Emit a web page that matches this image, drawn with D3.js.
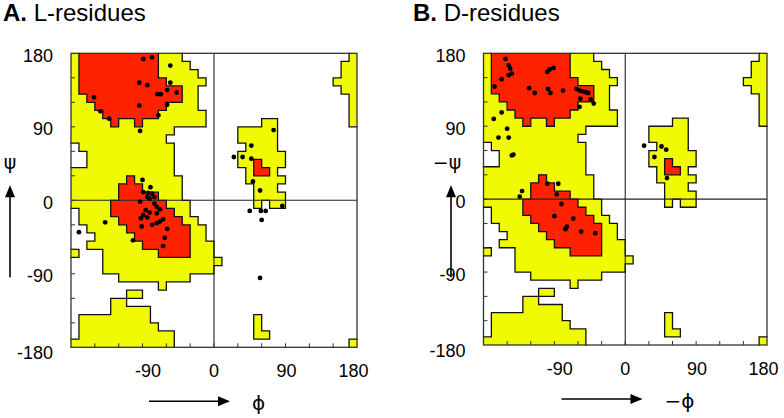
<!DOCTYPE html>
<html>
<head>
<meta charset="utf-8">
<script src="https://cdnjs.cloudflare.com/ajax/libs/d3/7.8.5/d3.min.js"></script>
<style>
body { margin: 0; background: #fff; }
svg text { font-family: "Liberation Sans", Arial, sans-serif; fill: #000; }
</style>
</head>
<body>
<svg id="chart" width="784" height="418"></svg>
<script>
var width = 784,
    height = 418;

// 10 degree cells. row 0 = psi 170..180 (top), column 0 = phi -180..-170
// "y" = allowed (yellow), "r" = core (red), anything not listed is white
var regionRows = [
  "y0 r1-10 y11-13 y35",
  "y0 r1-10 y11-14 y34-35",
  "y0 r1-10 y11-15 y34-35",
  "y0 r1-11 y12-16 y33-35",
  "y0 r1-13 y14-15 y34-35",
  "y0-1 r2-13 y14-15 y35",
  "y0-2 r3-11 y12-15 y35",
  "y0-3 r4-10 y11-16 y35",
  "y0-4 r5 y6-7 r8 y9-16 y24-25 y35",
  "y0-12 y21-25",
  "y0-11 y21-25",
  "y1-12 y22-25",
  "y2-12 y21-26",
  "y2-12 y21-22 r23 y24-26",
  "y0-12 y22 r23-24 y25",
  "y0-6 r7 y8-13 y22-26",
  "y0-5 r6-8 y9-13 y23-25",
  "y0-5 r6-10 y11-13 y23-26",
  "y0-4 r5-11 y12-14 y23 y25-26",
  "y1-4 r5-12 y13-14",
  "y1-5 r6-13 y14-15",
  "y2-6 r7-14 y15-16",
  "y3-7 r8-14 y15-16",
  "y2-8 r9-14 y15-17",
  "y0 y4-10 r11-14 y15-17",
  "y4-18",
  "y4-17",
  "y6-14",
  "y11",
  "y7-8",
  "y5-6",
  "y5-9",
  "y1-9 y23",
  "y1-10 y23",
  "y1-12 y23-24",
  "y0-12 y35"
];

var tickAngles = [-150, -120, -90, -60, -30, 0, 30, 60, 90, 120, 150];
var phiLabels = [-90, 0, 90, 180];
var psiLabels = [180, 90, 0, -90, -180];

// [phi, psi]
var lResidues = [
  [-89, 173], [-78, 175], [-55, 165], [-94, 144], [-84, 141], [-55, 144],
  [-59, 135], [-71, 130], [-67, 130], [-47, 132], [-151, 126], [-94, 116],
  [-59, 117], [-143, 109], [-132, 100], [-70, 104], [-93, 85],
  [-90, 25], [-80, 16], [-89, 10], [-78, 8], [-75, 4], [-84, 4],
  [-93, -2], [-83, 9], [-81, 2], [-75, -4], [-72, -8], [-86, -12],
  [-81, -15], [-72, -16], [-68, -11], [-89, -18], [-92, -22], [-84, -21],
  [-64, -23], [-68, -26], [-72, -28], [-78, -30], [-59, -35], [-91, -32],
  [-62, -46], [-64, -56], [-102, -49], [-137, -27], [-170, -39],
  [75, 86], [47, 67], [25, 53], [36, 53], [47, 51], [49, 23], [58, 12],
  [45, -13], [59, -13], [65, -13], [86, -7], [60, -24], [58, -95]
];

var dResidues = [
  [-152, 173], [-148, 165], [-146, 161], [-144, 155], [-148, 153], [-157, 148],
  [-166, 139], [-91, 162], [-96, 160], [-99, 157], [-122, 137], [-115, 131],
  [-98, 136], [-95, 131], [-79, 134], [-62, 136], [-58, 134], [-54, 133],
  [-50, 132], [-47, 131], [-57, 124], [-44, 123], [-40, 118], [-58, 114],
  [-157, 107], [-167, 99], [-150, 87], [-161, 76], [-148, 76], [-142, 55],
  [-144, 54], [-131, 10], [-134, 3], [-99, 19], [-85, 19], [-87, 6],
  [-81, -6], [-90, -21], [-66, -24], [-74, -34], [-76, -37], [-56, -40],
  [-38, -42],
  [24, 66], [46, 65], [52, 61], [37, 52], [53, 26]
];

var panels = [
  { left: 71, top: 53.3, width: 286, height: 294, title: "A.", sub: " L-residues", titleX: 3,
    points: lResidues, xName: "\u03d5", yName: "\u03c8", yArrowX: 10 },
  { left: 483.5, top: 53.3, width: 283.5, height: 291.7, title: "B.", sub: " D-residues", titleX: 413,
    points: dResidues, xName: "\u2212\u03d5", yName: "\u2212\u03c8", yArrowX: 451 }
];

var coreColor = "#ff2200",
    allowedColor = "#f0fa00";

var svg = d3.select("#chart");

function parseRow(s) {
  var row = d3.range(36).map(function() { return "."; });
  s.split(" ").forEach(function(tok) {
    var t = tok[0];
    var m = tok.slice(1).split("-");
    var a = +m[0], b = m.length > 1 ? +m[1] : a;
    for (var i = a; i <= b; i++) row[i] = t;
  });
  return row;
}

var grid = regionRows.map(parseRow);

function arrowHead(g, x, y, dir) {
  // dir: "right" or "up"
  var p = dir == "right"
    ? [[x, y], [x - 12, y - 5], [x - 12, y + 5]]
    : [[x, y], [x - 5, y + 12], [x + 5, y + 12]];
  g.append("path").attr("d", "M" + p.join("L") + "Z").attr("fill", "#000");
}

function drawPanel(p) {
  var g = svg.append("g");
  var x = d3.scaleLinear().domain([-180, 180]).range([p.left, p.left + p.width]);
  var y = d3.scaleLinear().domain([-180, 180]).range([p.top + p.height, p.top]);
  var bottom = p.top + p.height;

  // one path per level so neighbouring cells don't show seams
  [["y", allowedColor], ["r", coreColor]].forEach(function(lv) {
    var area = d3.path();
    grid.forEach(function(row, r) {
      row.forEach(function(v, c) {
        if (v != lv[0]) return;
        var x0 = x(-180 + 10 * c), y0 = y(180 - 10 * r);
        area.rect(x0, y0, x(-170 + 10 * c) - x0, y(170 - 10 * r) - y0);
      });
    });
    g.append("path").attr("d", area.toString()).attr("fill", lv[1]);
  });

  // region outlines
  var path = d3.path();
  for (var r = 0; r < 36; r++) {
    for (var c = 0; c < 36; c++) {
      var v = grid[r][c];
      if (c < 35 && grid[r][c + 1] != v) {
        path.moveTo(x(-170 + 10 * c), y(180 - 10 * r));
        path.lineTo(x(-170 + 10 * c), y(170 - 10 * r));
      }
      if (r < 35 && grid[r + 1][c] != v) {
        path.moveTo(x(-180 + 10 * c), y(170 - 10 * r));
        path.lineTo(x(-170 + 10 * c), y(170 - 10 * r));
      }
    }
  }
  g.append("path").attr("d", path.toString())
    .attr("fill", "none").attr("stroke", "#111").attr("stroke-width", 1.3)
    .attr("stroke-linecap", "square");

  // zero lines
  g.append("line").attr("x1", x(0)).attr("x2", x(0)).attr("y1", p.top).attr("y2", bottom)
    .attr("stroke", "#222").attr("stroke-width", 1.1);
  g.append("line").attr("x1", p.left).attr("x2", p.left + p.width).attr("y1", y(0)).attr("y2", y(0))
    .attr("stroke", "#222").attr("stroke-width", 1.1);

  // ticks
  g.selectAll("line.xt").data(tickAngles).join("line").attr("class", "xt")
    .attr("x1", function(d) { return x(d); }).attr("x2", function(d) { return x(d); })
    .attr("y1", bottom).attr("y2", bottom - 4)
    .attr("stroke", "#333").attr("stroke-width", 1);
  g.selectAll("line.yt").data(tickAngles).join("line").attr("class", "yt")
    .attr("y1", function(d) { return y(d); }).attr("y2", function(d) { return y(d); })
    .attr("x1", p.left).attr("x2", p.left + 4)
    .attr("stroke", "#333").attr("stroke-width", 1);

  // frame
  g.append("rect").attr("x", p.left).attr("y", p.top).attr("width", p.width).attr("height", p.height)
    .attr("fill", "none").attr("stroke", "#333").attr("stroke-width", 1.3);

  // residues
  g.selectAll("circle").data(p.points).join("circle")
    .attr("cx", function(d) { return x(d[0]); })
    .attr("cy", function(d) { return y(d[1]); })
    .attr("r", 2.4)
    .attr("fill", "#000");

  // tick labels
  var xShift = { "-90": 5.5, "0": 0, "90": 1, "180": -3.5 };
  g.selectAll("text.xl").data(phiLabels).join("text").attr("class", "xl")
    .attr("x", function(d) { return x(d) + xShift[d]; })
    .attr("y", bottom + 29.5)
    .attr("text-anchor", "middle")
    .style("font-size", "18px")
    .text(function(d) { return d; });
  g.selectAll("text.yl").data(psiLabels).join("text").attr("class", "yl")
    .attr("x", p.left - 18)
    .attr("y", function(d) { return y(d) + (d == -180 ? 12 : 8.5); })
    .attr("text-anchor", "end")
    .style("font-size", "18px")
    .text(function(d) { return d; });

  // axis names with arrows
  var ay = bottom + 54;
  g.append("line").attr("x1", p.left + 78).attr("x2", p.left + 150).attr("y1", ay).attr("y2", ay)
    .attr("stroke", "#000").attr("stroke-width", 1.6);
  arrowHead(g, p.left + 159, ay, "right");
  g.append("text").attr("x", p.left + 181).attr("y", ay + 9)
    .style("font-family", "DejaVu Sans, sans-serif").style("font-size", "20px")
    .text(p.xName);

  g.append("line").attr("x1", p.yArrowX).attr("x2", p.yArrowX).attr("y1", p.top + 224).attr("y2", p.top + 140)
    .attr("stroke", "#000").attr("stroke-width", 1.6);
  arrowHead(g, p.yArrowX, p.top + 132, "up");
  g.append("text").attr("x", p.yArrowX - (p.yName.length > 1 ? 4 : 0)).attr("y", p.top + 116)
    .attr("text-anchor", "middle")
    .style("font-family", "DejaVu Sans, sans-serif").style("font-size", "19px")
    .text(p.yName);

  // panel title
  var t = g.append("text").attr("x", p.titleX).attr("y", 21).style("font-size", "24px");
  t.append("tspan").style("font-weight", "bold").text(p.title);
  t.append("tspan").text(p.sub);
}

panels.forEach(drawPanel);
</script>
</body>
</html>
